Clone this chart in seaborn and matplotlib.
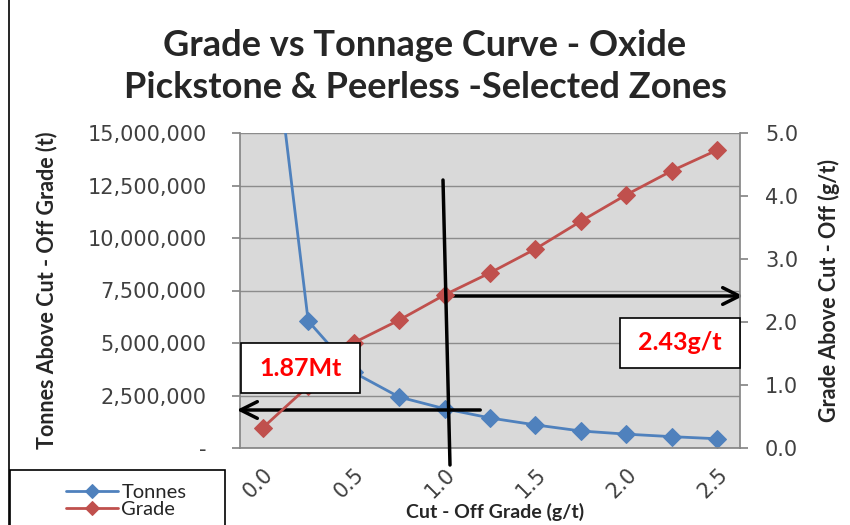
import numpy as np
import pandas as pd
import seaborn as sns
from matplotlib import pyplot as plt
from matplotlib.patches import Rectangle
from matplotlib.lines import Line2D

sns.set_theme(style="white")
plt.rcParams['font.family'] = ['Lato', 'DejaVu Sans']

# cut-off grade categories (g/t)
cutoff = [0.0, 0.25, 0.5, 0.75, 1.0, 1.25, 1.5, 1.75, 2.0, 2.25, 2.5]
tonnes = [24000000, 6050000, 3600000, 2430000, 1870000, 1430000,
          1100000, 810000, 660000, 540000, 440000]
grade = [0.32, 0.98, 1.67, 2.03, 2.43, 2.78, 3.16, 3.60, 4.02, 4.40, 4.73]
tick_labels = ["0.0", "0.5", "1.0", "1.5", "2.0", "2.5"]

df = pd.DataFrame({"idx": range(len(cutoff)), "cutoff": cutoff,
                   "tonnes": tonnes, "grade": grade})

W, H = 850, 525
fig = plt.figure(figsize=(8.5, 5.25), dpi=100)
ax = fig.add_axes([240 / W, 1 - 448 / H, 500 / W, 315 / H])
ax.set_facecolor("#D9D9D9")
ax2 = ax.twinx()

blue = "#4F81BD"
red = "#C0504D"
sns.lineplot(data=df, x="idx", y="tonnes", ax=ax, color=blue, marker="D",
             markersize=9, markeredgecolor=blue, linewidth=2, label="Tonnes", legend=False)
sns.lineplot(data=df, x="idx", y="grade", ax=ax2, color=red, marker="D",
             markersize=9, markeredgecolor=red, linewidth=2, label="Grade", legend=False)

ax.set_xlim(-0.5, len(cutoff) - 0.5)
ax.set_ylim(0, 15000000)
ax2.set_ylim(0, 5)
ax.set_yticks(np.arange(0, 15000001, 2500000))
ax.set_yticklabels(["-"] + [f"{v:,.0f}" for v in np.arange(2500000, 15000001, 2500000)])
ax2.set_yticks(np.arange(0, 5.01, 1))
ax2.set_yticklabels([f"{v:.1f}" for v in np.arange(0, 5.01, 1)])
ax.yaxis.grid(True, color="#8C8C8C", linewidth=1)
ax.set_axisbelow(True)

ax.set_xticks(np.arange(-0.5, len(cutoff), 1), minor=True)
ax.set_xticks(range(0, len(cutoff), 2))
ax.set_xticklabels(tick_labels, rotation=45, ha="right", rotation_mode="anchor")
ax.tick_params(axis="x", which="major", length=0, pad=12)
ax.tick_params(axis="x", which="minor", length=6, color="#868686", width=1, direction="out")

for lab in ax.get_yticklabels() + ax2.get_yticklabels() + ax.get_xticklabels():
    lab.set_fontfamily("DejaVu Sans")
    lab.set_fontsize(15)
    lab.set_color("#404040")
ax.tick_params(axis="y", length=6, color="#868686", direction="out", left=True, pad=18)
ax2.tick_params(axis="y", length=6, color="#868686", direction="out", right=True, pad=12)

for a in (ax, ax2):
    for s in a.spines.values():
        s.set_visible(False)
ax.spines["left"].set_visible(True)
ax.spines["left"].set_color("#868686")
ax.spines["bottom"].set_visible(True)
ax.spines["bottom"].set_color("#868686")
ax2.spines["right"].set_visible(True)
ax2.spines["right"].set_color("#868686")

ax.set_xlabel("Cut - Off Grade (g/t)", fontsize=14, fontweight="bold", labelpad=0)
ax.xaxis.set_label_coords(0.51, -0.173)
ax.set_ylabel("Tonnes Above Cut - Off Grade (t)", fontsize=15.5, fontweight="bold")
ax.yaxis.set_label_coords(-0.366, 0.5)
ax2.set_ylabel("Grade Above Cut - Off (g/t)", fontsize=15.5, fontweight="bold")
ax2.yaxis.set_label_coords(1.156, 0.5)

fig.text(425 / W, 1 - 45 / H, "Grade vs Tonnage Curve - Oxide", ha="center", va="center",
         fontsize=26, fontweight="bold")
fig.text(425 / W, 1 - 88 / H, "Pickstone & Peerless -Selected Zones", ha="center", va="center",
         fontsize=26, fontweight="bold")


def fx(x):
    return x / W


def fy(y):
    return 1 - y / H


# vertical marker line
fig.add_artist(Line2D([fx(443), fx(450)], [fy(180), fy(465)], color="black", lw=2.5))
# arrows
ax.annotate("", xy=(fx(746), fy(296)), xytext=(fx(443), fy(296)), xycoords="figure fraction",
            textcoords="figure fraction",
            arrowprops=dict(arrowstyle="->", lw=2.5, color="black", mutation_scale=30))
ax.annotate("", xy=(fx(234), fy(410)), xytext=(fx(483), fy(410)), xycoords="figure fraction",
            textcoords="figure fraction",
            arrowprops=dict(arrowstyle="->", lw=2.5, color="black", mutation_scale=30))

# value boxes
for (x0, y0, w, h, txt) in [(241, 343, 119, 50, "1.87Mt"), (620, 318, 120, 50, "2.43g/t")]:
    fig.add_artist(Rectangle((fx(x0), fy(y0 + h)), w / W, h / H, transform=fig.transFigure,
                             facecolor="white", edgecolor="black", lw=1.2))
    fig.text(fx(x0 + w / 2), fy(y0 + h / 2), txt, ha="center", va="center",
             color="red", fontsize=18, fontweight="bold")

# chart border and legend box
fig.add_artist(Line2D([fx(9), fx(9)], [0, 1], color="black", lw=1.2))
fig.add_artist(Rectangle((fx(10), fy(540)), 215 / W, 70 / H, transform=fig.transFigure,
                         facecolor="white", edgecolor="black", lw=1.2, clip_on=False))
handles, labels = [], []
for a in (ax, ax2):
    h, l = a.get_legend_handles_labels()
    handles += h
    labels += l
leg = fig.legend(handles, labels, loc="upper left", bbox_to_anchor=(fx(56), fy(474)),
                 frameon=False, fontsize=14.5, handlelength=2.6, labelspacing=0.0,
                 handletextpad=0.15, borderpad=0)
for h in leg.legend_handles:
    h.set_markersize(7)

fig.savefig("out.png", dpi=100)
